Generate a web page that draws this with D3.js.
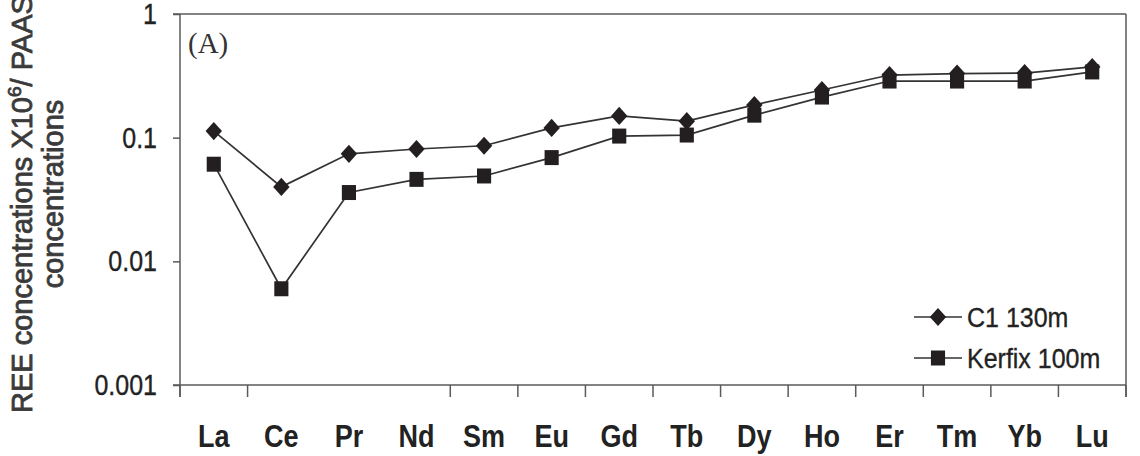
<!DOCTYPE html>
<html>
<head>
<meta charset="utf-8">
<script src="https://cdn.jsdelivr.net/npm/d3@7"></script>
<style>
  html, body { margin: 0; padding: 0; background: #fff; }
  svg { display: block; }
</style>
</head>
<body>
<div id="chart"></div>
<script>
(function(){
	// data
	var elements = ["La","Ce","Pr","Nd","Sm","Eu","Gd","Tb","Dy","Ho","Er","Tm","Yb","Lu"];
	var c1_130m = [0.113,0.040,0.074,0.081,0.086,0.120,0.150,0.136,0.184,0.243,0.321,0.330,0.333,0.373];
	var kerfix_100m = [0.061,0.006,0.036,0.046,0.049,0.069,0.103,0.105,0.152,0.213,0.287,0.287,0.287,0.340];
	var yTicks = [0.001,0.01,0.1,1];
	var seriesNames = ["C1 130m","Kerfix 100m"];

	var W = 1140, H = 456;
	var left = 180, right = 1126, top = 14, bottom = 385;
	var axisColor = "#5a5a5a", lineColor = "#333", markColor = "#231f20";
	var sans = "'Liberation Sans', Arial, sans-serif";

	var svg = d3.select("#chart").append("svg")
		.attr("width", W)
		.attr("height", H);

	var x = d3.scaleBand().domain(elements).range([left, right]);
	var y = d3.scaleLog().domain([0.001, 1]).range([bottom, top]);

	// y axis
	var yAxis = d3.axisLeft(y)
		.tickValues(yTicks)
		.tickSize(7)
		.tickSizeOuter(0)
		.tickPadding(16)
		.tickFormat(function(d){ return d >= 1 ? "1" : String(d); });
	var gy = svg.append("g")
		.attr("transform", "translate(" + left + ",0)")
		.call(yAxis);
	gy.select(".domain").remove();
	gy.selectAll(".tick line").attr("stroke", axisColor).attr("stroke-width", 1.5);
	gy.selectAll(".tick text")
		.attr("fill", "#222")
		.attr("stroke", "#222")
		.attr("stroke-width", 0.3)
		.attr("transform", "scale(1,1.17)")
		.style("font-family", sans)
		.style("font-size", "25px");

	// frame
	svg.append("line").attr("x1", left).attr("x2", left).attr("y1", top).attr("y2", bottom + 12)
		.attr("stroke", axisColor).attr("stroke-width", 1.5);
	svg.append("line").attr("x1", right).attr("x2", right).attr("y1", top).attr("y2", bottom + 12)
		.attr("stroke", axisColor).attr("stroke-width", 1.5);
	svg.append("line").attr("x1", left - 7).attr("x2", right).attr("y1", top).attr("y2", top)
		.attr("stroke", axisColor).attr("stroke-width", 1.5);
	svg.append("line").attr("x1", left - 7).attr("x2", right).attr("y1", bottom).attr("y2", bottom)
		.attr("stroke", axisColor).attr("stroke-width", 1.5);

	// x ticks at band boundaries (the figure has none between Ce|Pr and Pr|Nd)
	var bounds = elements.map(function(d){ return x(d); }).concat([right]);
	svg.selectAll(".xtick")
		.data(bounds.filter(function(d, i){ return i != 2 && i != 3; }))
		.enter()
		.append("line")
		.attr("class", "xtick")
		.attr("x1", function(d){ return d; })
		.attr("x2", function(d){ return d; })
		.attr("y1", bottom)
		.attr("y2", bottom + 12)
		.attr("stroke", axisColor)
		.attr("stroke-width", 1.5);

	svg.selectAll(".xlabel")
		.data(elements)
		.enter()
		.append("text")
		.attr("class", "xlabel")
		.attr("transform", function(d){
			return "translate(" + (x(d) + x.bandwidth()/2) + ",447) scale(1,1.13)";
		})
		.attr("text-anchor", "middle")
		.attr("fill", "#222")
		.style("font-family", sans)
		.style("font-weight", "bold")
		.style("font-size", "27px")
		.text(function(d){ return d; });

	// y title (the first line runs off the top edge, as in the figure)
	var t1 = svg.append("text")
		.attr("transform", "translate(32,413) rotate(-90)")
		.attr("fill", "#3a3a3a")
		.attr("stroke", "#3a3a3a")
		.attr("stroke-width", 0.8)
		.style("font-family", sans)
		.style("font-size", "29px");
	t1.append("tspan").text("REE concentrations X10");
	t1.append("tspan").attr("dy", -11).style("font-size", "19px").text("6");
	t1.append("tspan").attr("dy", 11).text("/ PAAS");

	svg.append("text")
		.attr("transform", "translate(63,194) rotate(-90)")
		.attr("text-anchor", "middle")
		.attr("fill", "#3a3a3a")
		.attr("stroke", "#3a3a3a")
		.attr("stroke-width", 0.8)
		.style("font-family", sans)
		.style("font-size", "29px")
		.text("concentrations");

	// panel letter
	svg.append("text")
		.attr("x", 188)
		.attr("y", 53)
		.attr("fill", "#333")
		.style("font-family", "'Liberation Serif', 'Times New Roman', serif")
		.style("font-size", "29px")
		.text("(A)");

	// series
	var cx = function(d, i){ return x(elements[i]) + x.bandwidth()/2; };
	var line = d3.line()
		.x(cx)
		.y(function(d){ return y(d); });

	var diamond = d3.symbol(d3.symbolSquare, 135);
	var square = d3.symbol(d3.symbolSquare, 200);
	var diamondShape = " scale(1,1.1) rotate(45)";
	var squareShape = " scale(1,1.06)";

	function drawSeries(values, sym, shape){
		svg.append("path")
			.datum(values)
			.attr("d", line)
			.attr("fill", "none")
			.attr("stroke", lineColor)
			.attr("stroke-width", 1.7);
		svg.selectAll(null)
			.data(values)
			.enter()
			.append("path")
			.attr("d", sym)
			.attr("transform", function(d, i){
				return "translate(" + cx(d, i) + "," + y(d) + ")" + shape;
			})
			.attr("fill", markColor);
	}
	drawSeries(kerfix_100m, square, squareShape);
	drawSeries(c1_130m, diamond, diamondShape);

	// legend
	var legend = svg.append("g");
	var legendY = [317, 358];
	var legendSym = [[diamond, diamondShape], [square, squareShape]];
	seriesNames.forEach(function(name, i){
		legend.append("line")
			.attr("x1", 914).attr("x2", 962)
			.attr("y1", legendY[i]).attr("y2", legendY[i])
			.attr("stroke", lineColor).attr("stroke-width", 1.6);
		legend.append("path")
			.attr("d", legendSym[i][0])
			.attr("transform", "translate(938," + legendY[i] + ")" + legendSym[i][1])
			.attr("fill", markColor);
		legend.append("text")
			.attr("transform", "translate(967," + (legendY[i] + 10) + ") scale(1,1.08)")
			.attr("fill", "#222")
			.attr("stroke", "#222")
			.attr("stroke-width", 0.3)
			.style("font-family", sans)
			.style("font-size", "25px")
			.text(name);
	});
})();
</script>
</body>
</html>
